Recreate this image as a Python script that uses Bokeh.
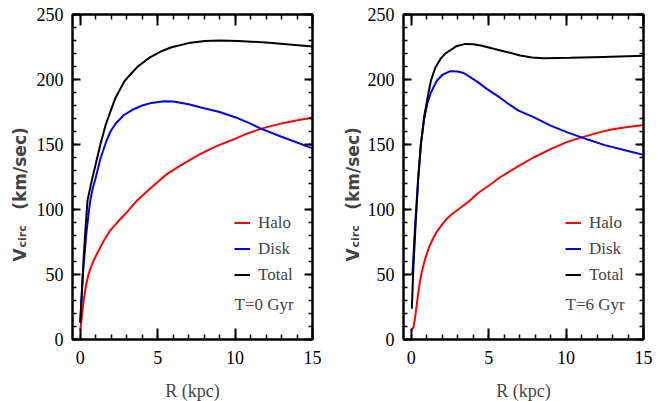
import math
from bokeh.plotting import figure
from bokeh.models import (Range1d, SingleIntervalTicker, LinearAxis, Label,
                          Legend, LegendItem, CustomLabelingPolicy)
from bokeh.layouts import row
from bokeh.embed import file_html
from bokeh.resources import INLINE

# ---------------- data ----------------
# Panel 1: T = 0 Gyr
halo0_r = [0.0, 0.08, 0.22, 0.36, 0.54, 0.8, 1.08, 1.5, 1.94, 2.5, 3.02, 3.67, 4.5, 5.61, 6.7, 7.77, 8.8, 9.92, 10.8, 11.65, 12.5, 13.3, 14.2, 15.0]
halo0_v = [7, 15, 30, 41, 50.5, 59, 66, 75.5, 84, 91.5, 98, 107, 116, 127.4, 135.5, 142.8, 148.7, 154, 158.5, 162, 164.7, 167, 169, 170.5]

disk0_r = [0.0, 0.17, 0.39, 0.52, 0.65, 0.8, 0.99, 1.3, 1.64, 1.95, 2.28, 2.8, 3.37, 4.0, 4.6, 5.4, 6.0, 7.0, 7.8, 9.0, 10.0, 11.0, 11.7, 13.0, 14.0, 15.0]
disk0_v = [13, 50, 81, 95, 107, 116, 124, 139, 151, 160, 166, 172.5, 176.7, 180, 182, 183.3, 183, 181, 178.5, 175, 171, 166, 162, 156, 151.5, 147]

total0_r = [0.0, 0.22, 0.35, 0.47, 0.65, 0.78, 1.0, 1.3, 1.64, 2.0, 2.28, 2.87, 3.37, 3.72, 4.5, 5.2, 5.9, 7.0, 8.05, 9.0, 10.2, 11.5, 12.4, 13.5, 15.0]
total0_v = [13, 63, 87, 107, 117, 124, 135, 150, 165, 177, 186, 199, 205.6, 210, 217, 221.5, 224.8, 228, 229.6, 230, 229.6, 228.8, 228, 227, 225.4]

# Panel 2: T = 6 Gyr
halo6_r = [0.0, 0.15, 0.25, 0.36, 0.5, 0.65, 0.9, 1.15, 1.4, 1.66, 2.0, 2.3, 2.75, 3.2, 3.7, 4.3, 5.0, 5.74, 7.0, 7.9, 9.0, 10.04, 11.0, 12.2, 13.0, 14.0, 15.0]
halo6_v = [7, 9.5, 17, 27, 40, 50.5, 62, 71, 77.5, 83, 88.5, 93, 97.5, 101.5, 106, 112.5, 118.3, 124.8, 134, 140, 146.5, 151.8, 155.5, 159.5, 161.7, 163.5, 165]

disk6_r = [0.0, 0.08, 0.25, 0.44, 0.62, 0.84, 1.05, 1.27, 1.65, 2.0, 2.52, 3.0, 3.38, 3.81, 4.3, 4.88, 5.74, 6.3, 6.93, 7.9, 9.0, 10.04, 11.45, 12.5, 14.0, 15.0]
disk6_v = [50.5, 50.5, 88, 122, 150, 170, 182, 190, 199, 203.5, 206.4, 206.2, 205, 201.8, 198, 192.8, 186, 181, 176, 171, 164.5, 159.5, 153.6, 149.5, 145, 142]

total6_r = [0.04, 0.12, 0.28, 0.44, 0.62, 0.84, 1.12, 1.27, 1.55, 1.9, 2.2, 2.95, 3.5, 4.0, 4.5, 5.2, 5.96, 7.03, 7.8, 8.54, 10.26, 12.4, 15.0]
total6_v = [23.6, 50.5, 88, 122, 150, 172, 190, 199, 209, 216, 220, 225.8, 227.4, 227.2, 226.2, 224, 221.8, 218.5, 217, 216.4, 216.7, 217.4, 218.2]

series_labels = ["Halo", "Disk", "Total"]
series_colors = ["#ff0000", "#0000ff", "#000000"]
panel_tags = ["T=0 Gyr", "T=6 Gyr"]

x_label = "R (kpc)"
y_label_main = "V"
y_label_sub = "circ"
y_label_unit = "(km/sec)"

SERIF = "Liberation Serif"
SANS = "DejaVu Sans"
LABEL_W = 30     # width of the strip that carries the rotated y label
FIG_H = 401


def style_axis(ax, is_x, show_labels):
    ax.ticker = SingleIntervalTicker(interval=5 if is_x else 50, num_minor_ticks=5)
    ax.axis_line_color = "black"
    ax.axis_line_width = 2
    ax.major_tick_line_color = "black"
    ax.minor_tick_line_color = "black"
    ax.major_tick_line_width = 2
    ax.minor_tick_line_width = 1.5
    ax.major_tick_out = 0
    ax.minor_tick_out = 0
    ax.major_tick_in = 11 if is_x else 8
    ax.minor_tick_in = 5 if is_x else 4
    if show_labels:
        ax.major_label_text_font = SERIF
        ax.major_label_text_font_size = "18px"
        ax.major_label_text_color = "black"
        ax.major_label_standoff = 11 if is_x else 9
    else:
        ax.major_label_policy = CustomLabelingPolicy(
            code="return new indices.constructor(indices.size)")
        ax.major_label_standoff = 0


def make_ylabel_strip():
    s = figure(frame_width=LABEL_W, frame_height=FIG_H,
               x_range=Range1d(0, 1), y_range=Range1d(0, 1),
               x_axis_type=None, y_axis_type=None,
               output_backend="svg", toolbar_location=None,
               min_border=0, min_border_left=0, min_border_right=0,
               min_border_top=0, min_border_bottom=0)
    s.outline_line_color = None
    s.grid.visible = False
    s.add_layout(Label(x=19, y=FIG_H - 247, x_units="screen", y_units="screen",
                       text=y_label_main, angle=math.pi / 2,
                       text_align="left", text_baseline="middle",
                       text_font=SANS, text_font_size="17px", text_font_style="bold"))
    s.add_layout(Label(x=22, y=FIG_H - 233, x_units="screen", y_units="screen",
                       text=y_label_sub, angle=math.pi / 2,
                       text_align="left", text_baseline="middle",
                       text_font=SANS, text_font_size="11px", text_font_style="bold"))
    s.add_layout(Label(x=19, y=FIG_H - 154, x_units="screen", y_units="screen",
                       text=y_label_unit, angle=math.pi / 2,
                       text_align="center", text_baseline="middle",
                       text_font=SANS, text_font_size="17px", text_font_style="bold"))
    return s


def make_panel(series, tag, left_border):
    p = figure(frame_width=240, frame_height=325,
               x_range=Range1d(-0.5, 15), y_range=Range1d(0, 250),
               output_backend="svg", toolbar_location=None,
               min_border_left=left_border - LABEL_W,
               min_border_right=90 - left_border,
               min_border_top=14, min_border_bottom=62,
               background_fill_color="white", border_fill_color="white")
    p.xgrid.visible = False
    p.ygrid.visible = False
    p.outline_line_color = "black"
    p.outline_line_width = 2

    style_axis(p.xaxis[0], True, True)
    style_axis(p.yaxis[0], False, True)
    p.xaxis[0].axis_label = x_label
    p.xaxis[0].axis_label_text_font = SERIF
    p.xaxis[0].axis_label_text_font_size = "18px"
    p.xaxis[0].axis_label_text_font_style = "normal"
    p.xaxis[0].axis_label_standoff = 14

    top = LinearAxis()
    style_axis(top, True, False)
    p.add_layout(top, "above")
    right = LinearAxis()
    style_axis(right, False, False)
    p.add_layout(right, "right")

    items = []
    for (r, v), lab, col in zip(series, series_labels, series_colors):
        gl = p.line(r, v, line_color=col, line_width=2)
        items.append(LegendItem(label=lab, renderers=[gl]))

    leg = Legend(items=items, location=(162, 53), orientation="vertical",
                 glyph_width=16, glyph_height=23, label_height=23, spacing=3,
                 padding=0, margin=0, label_standoff=8,
                 label_text_font=SERIF, label_text_font_size="17px",
                 border_line_alpha=0, background_fill_alpha=0)
    p.add_layout(leg)

    p.add_layout(Label(x=162, y=35, x_units="screen", y_units="screen", text=tag,
                       text_baseline="middle", text_align="left",
                       text_font=SERIF, text_font_size="17px"))
    return p


p1 = make_panel([(halo0_r, halo0_v), (disk0_r, disk0_v), (total0_r, total0_v)],
                panel_tags[0], 72)
p2 = make_panel([(halo6_r, halo6_v), (disk6_r, disk6_v), (total6_r, total6_v)],
                panel_tags[1], 70)

layout = row(make_ylabel_strip(), p1, make_ylabel_strip(), p2)
open("out.html", "w").write(file_html(layout, INLINE))
